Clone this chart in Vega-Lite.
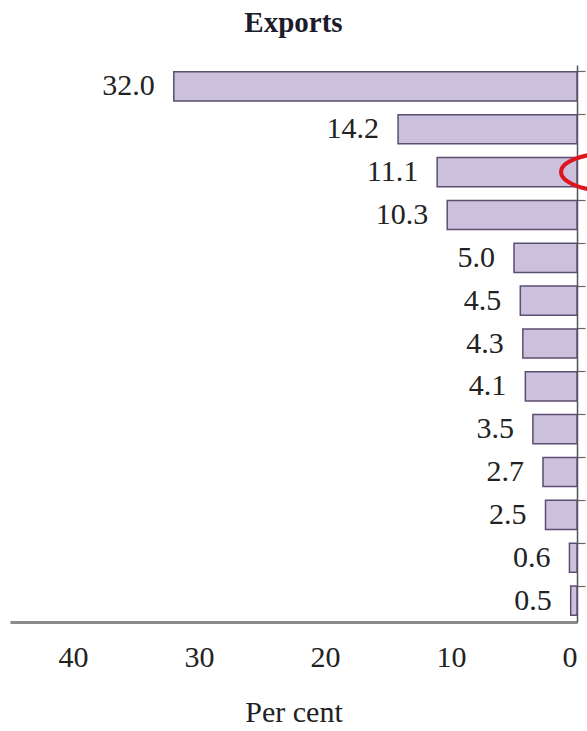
{
  "$schema": "https://vega.github.io/schema/vega-lite/v6.json",
  "autosize": "none",
  "width": 567,
  "height": 557,
  "padding": {"left": 10, "top": 65, "right": 10, "bottom": 109},
  "background": "white",
  "title": {
    "text": "Exports",
    "font": "Liberation Serif",
    "fontSize": 29,
    "fontWeight": "bold",
    "color": "#1c1c2c",
    "anchor": "middle",
    "offset": 27
  },
  "config": {"view": {"stroke": null}},
  "data": {
    "values": [
      {"cat": "c01", "value": 32.0},
      {"cat": "c02", "value": 14.2},
      {"cat": "c03", "value": 11.1},
      {"cat": "c04", "value": 10.3},
      {"cat": "c05", "value": 5.0},
      {"cat": "c06", "value": 4.5},
      {"cat": "c07", "value": 4.3},
      {"cat": "c08", "value": 4.1},
      {"cat": "c09", "value": 3.5},
      {"cat": "c10", "value": 2.7},
      {"cat": "c11", "value": 2.5},
      {"cat": "c12", "value": 0.6},
      {"cat": "c13", "value": 0.5}
    ]
  },
  "encoding": {
    "y": {
      "field": "cat",
      "type": "nominal",
      "sort": null,
      "scale": {"paddingInner": 0.32, "paddingOuter": 0.16},
      "axis": {
        "orient": "right",
        "title": null,
        "labels": false,
        "bandPosition": 0,
        "ticks": true,
        "tickSize": 8,
        "tickColor": "#666666",
        "tickWidth": 1.2,
        "domainColor": "#555555",
        "domainWidth": 1.5,
        "grid": false
      }
    }
  },
  "layer": [
    {
      "mark": {"type": "bar", "fill": "#cbc1dd", "stroke": "#5c4e72", "strokeWidth": 1.5},
      "encoding": {
        "x": {
          "field": "value",
          "type": "quantitative",
          "scale": {"domain": [0, 45], "reverse": true, "nice": false},
          "axis": {
            "values": [0, 10, 20, 30, 40],
            "ticks": false,
            "grid": false,
            "domainColor": "#8a8a8a",
            "domainWidth": 3,
            "labelFont": "Liberation Serif",
            "labelFontSize": 30,
            "labelColor": "#222222",
            "labelPadding": 20,
            "title": "Per cent",
            "titleFont": "Liberation Serif",
            "titleFontSize": 30,
            "titleFontWeight": "normal",
            "titleColor": "#222222",
            "titlePadding": 25
          }
        }
      }
    },
    {
      "mark": {"type": "text", "align": "right", "baseline": "middle", "dx": -19, "font": "Liberation Serif", "fontSize": 30, "color": "#222222"},
      "encoding": {
        "x": {"field": "value", "type": "quantitative"},
        "text": {"field": "value", "type": "quantitative", "format": ".1f"}
      }
    },
    {
      "data": {"values": [{"cat": "c03", "value": -2.7}]},
      "mark": {
        "type": "point",
        "shape": "M-1,0 A1,0.38 0 1,1 1,0 A1,0.38 0 1,1 -1,0 Z",
        "size": 10000,
        "filled": false,
        "stroke": "#e0141c",
        "strokeWidth": 4,
        "opacity": 1
      },
      "encoding": {
        "x": {"field": "value", "type": "quantitative"}
      }
    }
  ]
}
